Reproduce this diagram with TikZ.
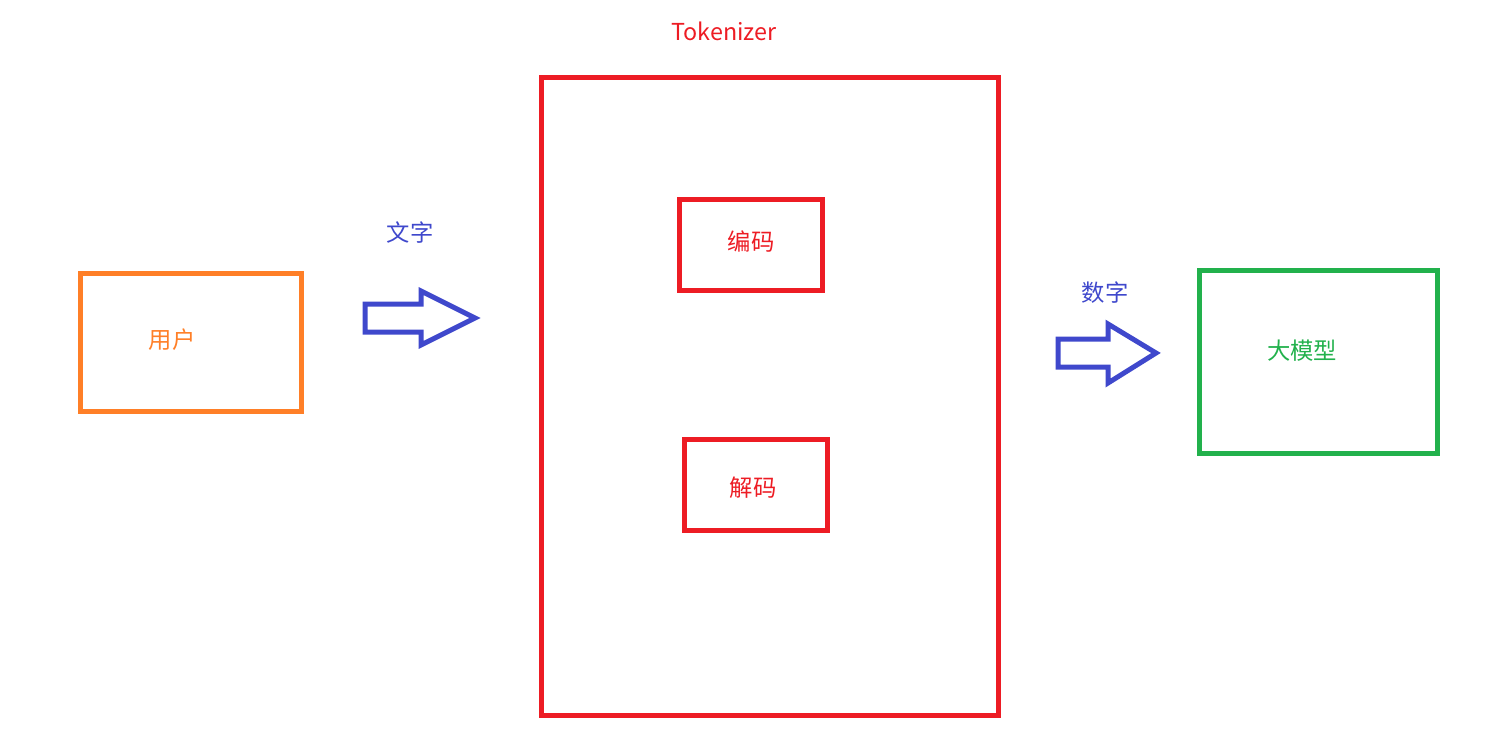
\documentclass[tikz,border=0pt]{standalone}
\usepackage{fontspec}
\newfontfamily\cjk{Noto Sans CJK SC}
\definecolor{pntorange}{RGB}{255,127,39}
\definecolor{pntred}{RGB}{237,28,36}
\definecolor{pntgreen}{RGB}{34,177,76}
\definecolor{pntblue}{RGB}{63,72,204}
\tikzset{every picture/.style={line width=0.75pt}}
\tikzset{
  box/.style={draw, line width=3.75pt, rectangle, inner sep=0pt},
  lbl/.style={font=\cjk\fontsize{17.5}{21}\selectfont, inner sep=0pt},
  fatarrow/.style={draw=pntblue, line width=3.75pt, line join=miter}
}

\begin{document}
\begin{tikzpicture}[x=0.75pt,y=0.75pt,yscale=-1,xscale=1]
	\useasboundingbox (0,0) rectangle (1508,753);

	% Boxes
	\node [box, draw=pntorange, minimum width=221*0.75pt, minimum height=138*0.75pt] (user) at (190.5,342) {};
	\node [box, draw=pntred, minimum width=457*0.75pt, minimum height=638*0.75pt] (tok) at (769.5,396) {};
	\node [box, draw=pntred, minimum width=143*0.75pt, minimum height=91*0.75pt] (enc) at (750.5,244.5) {};
	\node [box, draw=pntred, minimum width=143*0.75pt, minimum height=91*0.75pt] (dec) at (756,484.5) {};
	\node [box, draw=pntgreen, minimum width=238*0.75pt, minimum height=183*0.75pt] (llm) at (1318.5,362) {};

	% Text Node
	\node [lbl, text=pntorange] (usertxt) at (172,340) {用户};
	\node [lbl, text=pntred] (toktxt) at (724,31) {Tokenizer};
	\node [lbl, text=pntred] (enctxt) at (751,242) {编码};
	\node [lbl, text=pntred] (dectxt) at (753,488) {解码};
	\node [lbl, text=pntgreen] (llmtxt) at (1302,351) {大模型};
	\node [lbl, text=pntblue] (wordtxt) at (410,233) {文字};
	\node [lbl, text=pntblue] (numtxt) at (1105,293) {数字};

	% Block arrows
	\draw [fatarrow] (365,304) -- (421,304) -- (421,291) -- (475,318) -- (421,345) -- (421,332) -- (365,332) -- cycle;
	\draw [fatarrow] (1058,339) -- (1108,339) -- (1108,324) -- (1156,353) -- (1108,383) -- (1108,367) -- (1058,367) -- cycle;

\end{tikzpicture}
\end{document}
